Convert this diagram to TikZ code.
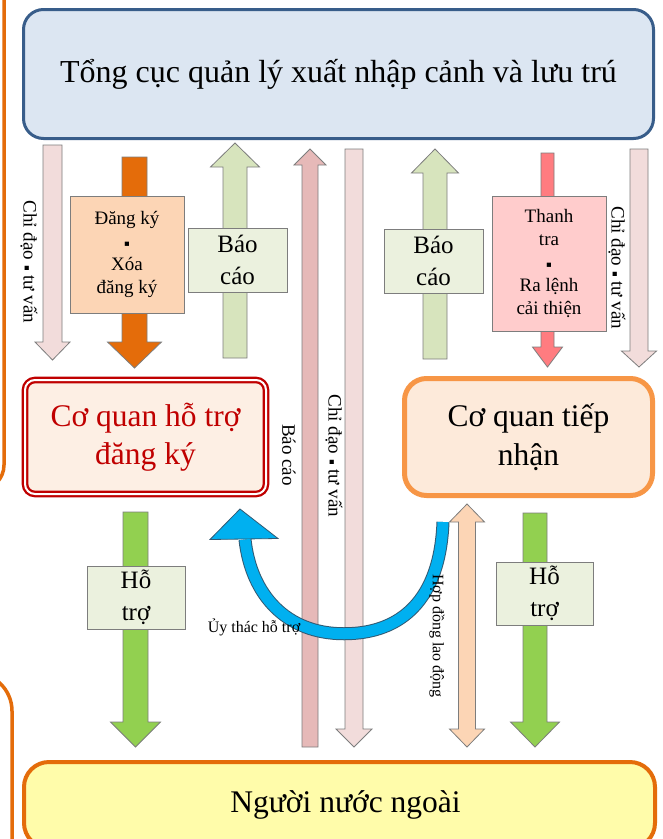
\documentclass[tikz,border=0pt]{standalone}
\usepackage{fontspec}
\setmainfont{Liberation Serif}
\newfontfamily\symfont{DejaVu Sans}
\usetikzlibrary{calc}

\definecolor{headblue}{RGB}{220,230,242}
\definecolor{headedge}{RGB}{56,93,138}
\definecolor{frameorange}{RGB}{228,108,10}
\definecolor{lightpink}{RGB}{242,220,219}
\definecolor{darkpink}{RGB}{230,185,184}
\definecolor{paleorange}{RGB}{252,213,181}
\definecolor{lightgreen}{RGB}{215,228,189}
\definecolor{palegreen}{RGB}{235,241,222}
\definecolor{brightgreen}{RGB}{146,208,80}
\definecolor{salmon}{RGB}{255,124,128}
\definecolor{palered}{RGB}{255,204,204}
\definecolor{darkred}{RGB}{192,0,0}
\definecolor{supportfill}{RGB}{253,239,228}
\definecolor{recvedge}{RGB}{247,150,70}
\definecolor{recvfill}{RGB}{253,234,218}
\definecolor{paleyellow}{RGB}{255,252,170}
\definecolor{trustblue}{RGB}{0,176,240}
\definecolor{trustedge}{RGB}{50,90,115}
\definecolor{arrowedge}{RGB}{125,125,125}

% small square dot
\newcommand{\kdot}{{\symfont\fontsize{8.5}{8.5}\selectfont\raisebox{1pt}{▪}}}

% straight block arrow: style, from, to, half shaft, half head, head length
\newcommand{\blockarrow}[6]{%
  \coordinate (ba-a) at (#2);
  \coordinate (ba-b) at (#3);
  \coordinate (ba-h) at ($(ba-b)!#6!(ba-a)$);
  \draw[#1] ($(ba-a)!#4!90:(ba-b)$) -- ($(ba-h)!#4!90:(ba-b)$)
    -- ($(ba-h)!#5!90:(ba-b)$) -- (ba-b) -- ($(ba-h)!#5!-90:(ba-b)$)
    -- ($(ba-h)!#4!-90:(ba-b)$) -- ($(ba-a)!#4!-90:(ba-b)$) -- cycle;
}

% block arrow with a head at both ends
\newcommand{\twoblockarrow}[6]{%
  \coordinate (ba-a) at (#2);
  \coordinate (ba-b) at (#3);
  \coordinate (ba-g) at ($(ba-a)!#6!(ba-b)$);
  \coordinate (ba-h) at ($(ba-b)!#6!(ba-a)$);
  \draw[#1] (ba-a) -- ($(ba-g)!#5!90:(ba-b)$) -- ($(ba-g)!#4!90:(ba-b)$)
    -- ($(ba-h)!#4!90:(ba-b)$) -- ($(ba-h)!#5!90:(ba-b)$) -- (ba-b)
    -- ($(ba-h)!#5!-90:(ba-b)$) -- ($(ba-h)!#4!-90:(ba-b)$)
    -- ($(ba-g)!#4!-90:(ba-b)$) -- ($(ba-g)!#5!-90:(ba-b)$) -- cycle;
}

\tikzset{
  edgeframe/.style={draw=frameorange, line width=3.5pt},
  topbox/.style={draw=headedge, fill=headblue, line width=3pt, rounded corners=20pt,
    minimum width=630pt, minimum height=129pt, inner sep=0pt, outer sep=1.5pt,
    font=\fontsize{32}{38}\selectfont},
  supportbox/.style={draw=darkred, double=white, double distance=2pt, line width=2.3pt,
    fill=supportfill, rounded corners=10pt, minimum width=241pt, minimum height=114pt,
    inner sep=0pt, outer sep=3pt, align=center, text=darkred,
    font=\fontsize{31.5}{38}\selectfont},
  recvbox/.style={draw=recvedge, fill=recvfill, line width=5pt, rounded corners=22pt,
    minimum width=248pt, minimum height=117pt, inner sep=0pt, outer sep=2.5pt,
    align=center, font=\fontsize{31.5}{39}\selectfont},
  foreignbox/.style={draw=frameorange, fill=paleyellow, line width=4pt, rounded corners=25pt,
    minimum width=631pt, minimum height=86pt, inner sep=0pt, outer sep=2pt,
    font=\fontsize{31.5}{36}\selectfont},
  labelbox/.style={draw=arrowedge, line width=0.8pt, inner sep=0pt, align=center},
  smalllabel/.style={font=\fontsize{19}{23}\selectfont},
  biglabel/.style={font=\fontsize{25}{32}\selectfont},
  sidetext/.style={inner sep=0pt, font=\fontsize{19}{23}\selectfont},
  tinytext/.style={inner sep=0pt, font=\fontsize{16}{19}\selectfont},
  bar/.style={draw=arrowedge, line width=0.8pt, line join=miter},
  trustline/.style={draw=trustedge, line width=13pt},
  trustfill/.style={draw=trustblue, line width=11pt},
}

\begin{document}
\begin{tikzpicture}[x=1pt, y=-1pt]

% page
\useasboundingbox (0,0) rectangle (663,839);
\fill[white] (0,0) rectangle (663,839);

% orange frames cut by the left edge
\draw[edgeframe, rounded corners=25pt] (-80,-40) rectangle (4,490);
\draw[edgeframe, rounded corners=38pt] (-80,673) rectangle (12,900);

% top box
\node[topbox] (top) at (338.5,74) {Tổng cục quản lý xuất nhập cảnh và lưu trú};

% the two offices
\node[supportbox] (support) at (145.5,437) {Cơ quan hỗ trợ\\đăng ký};
\node[recvbox] (recv) at (528.5,437) {Cơ quan tiếp\\nhận};

% bottom box
\node[foreignbox] (foreign) at (339.5,805) {\hspace{12pt}Người nước ngoài};

% arrow columns
\coordinate (colA) at (52.5,0);
\coordinate (colB) at (134.5,0);
\coordinate (colC) at (235,0);
\coordinate (colD) at (310,0);
\coordinate (colE) at (354,0);
\coordinate (colF) at (435,0);
\coordinate (colG) at (547.5,0);
\coordinate (colH) at (639,0);
\coordinate (colI) at (135.5,0);
\coordinate (colJ) at (535,0);
\coordinate (colK) at (467,0);

% top box down to the support office
\blockarrow{bar, fill=lightpink}{$(top.south -| colA)+(0,5)$}{$(support.north -| colA)+(0,-17)$}{9.5pt}{17.5pt}{18pt}
\blockarrow{bar, fill=frameorange}{$(top.south -| colB)+(0,17)$}{$(support.north -| colB)+(0,-9)$}{12.5pt}{27pt}{26pt}
\blockarrow{bar, fill=lightgreen}{$(support.north -| colC)+(0,-19)$}{$(top.south -| colC)+(0,3)$}{12pt}{24.5pt}{24pt}

% long arrows between top and bottom
\blockarrow{bar, fill=darkpink}{$(foreign.north -| colD)+(0,-13)$}{$(top.south -| colD)+(0,9)$}{8pt}{16pt}{16pt}
\blockarrow{bar, fill=lightpink}{$(top.south -| colE)+(0,9)$}{$(foreign.north -| colE)+(0,-13)$}{9pt}{18pt}{18pt}

% top box and the receiving office
\blockarrow{bar, fill=lightgreen}{$(recv.north -| colF)+(0,-17)$}{$(top.south -| colF)+(0,9)$}{12pt}{23.5pt}{24pt}
\blockarrow{bar, fill=salmon}{$(top.south -| colG)+(0,13)$}{$(recv.north -| colG)+(0,-9)$}{6.5pt}{15pt}{20pt}
\blockarrow{bar, fill=lightpink}{$(top.south -| colH)+(0,9)$}{$(recv.north -| colH)+(0,-9)$}{9pt}{17.5pt}{16pt}

% offices down to the foreigners
\blockarrow{bar, fill=brightgreen}{$(support.south -| colI)+(0,15)$}{$(foreign.north -| colI)+(0,-13)$}{12.5pt}{25pt}{25pt}
\blockarrow{bar, fill=brightgreen}{$(recv.south -| colJ)+(0,15)$}{$(foreign.north -| colJ)+(0,-13)$}{12pt}{24.5pt}{25pt}
\twoblockarrow{bar, fill=paleorange}{$(foreign.north -| colK)+(0,-13)$}{$(recv.south -| colK)+(0,6)$}{8.5pt}{17.5pt}{18pt}

% curved arrow from the receiving office to the support office
\coordinate (trustA) at ($(recv.south west)+(41,24)$);
\coordinate (trustB) at ($(support.south east)+(-24,42.5)$);
\coordinate (trustT) at ($(support.south east)+(-29,12)$);
\coordinate (trustM) at ($(trustA)!0.5!(trustB)+(0,103)$);
\draw[bar, fill=trustblue, draw=trustedge] (trustT) -- ($(trustB)+(-35,0)$) -- ($(trustB)+(33,-1)$) -- cycle;
\draw[trustline] (trustA) .. controls +(-3,78) and +(57,0) .. (trustM) .. controls +(-58,0) and +(6,55) .. (trustB);
\draw[trustfill] (trustA) .. controls +(-3,78) and +(57,0) .. (trustM) .. controls +(-58,0) and +(6,55) .. (trustB);

% labels on the arrows
\node[labelbox, smalllabel, fill=paleorange, minimum width=114pt, minimum height=117pt] (register) at (127,254.5) {Đăng ký\\\kdot\\Xóa\\đăng ký};
\node[labelbox, biglabel, fill=palegreen, minimum width=99pt, minimum height=64pt] (reportL) at (237.5,260) {Báo\\cáo};
\node[labelbox, biglabel, fill=palegreen, minimum width=99pt, minimum height=64pt] (reportR) at (433.5,261) {Báo\\cáo};
\node[labelbox, smalllabel, fill=palered, minimum width=114pt, minimum height=135pt] (inspect) at (549,263.5) {Thanh\\tra\\\kdot\\Ra lệnh\\cải thiện};
\node[labelbox, biglabel, fill=palegreen, minimum width=98pt, minimum height=63pt] (helpL) at (136,597.5) {Hỗ\\trợ};
\node[labelbox, biglabel, fill=palegreen, minimum width=97pt, minimum height=63pt] (helpR) at (544.5,593.5) {Hỗ\\trợ};

% side texts
\node[sidetext, rotate=-90] (adviseL) at (29,262) {Chỉ đạo \kdot{} tư vấn};
\node[sidetext, rotate=-90] (reportM) at (289,455) {Báo cáo};
\node[sidetext, rotate=-90] (adviseM) at (334,456) {Chỉ đạo \kdot{} tư vấn};
\node[sidetext, rotate=-90] (adviseR) at (617,268) {Chỉ đạo \kdot{} tư vấn};
\node[tinytext, rotate=-90] (contract) at (437,636) {Hợp đồng lao động};
\node[tinytext] (trust) at (254,627) {Ủy thác hỗ trợ};

\end{tikzpicture}
\end{document}
